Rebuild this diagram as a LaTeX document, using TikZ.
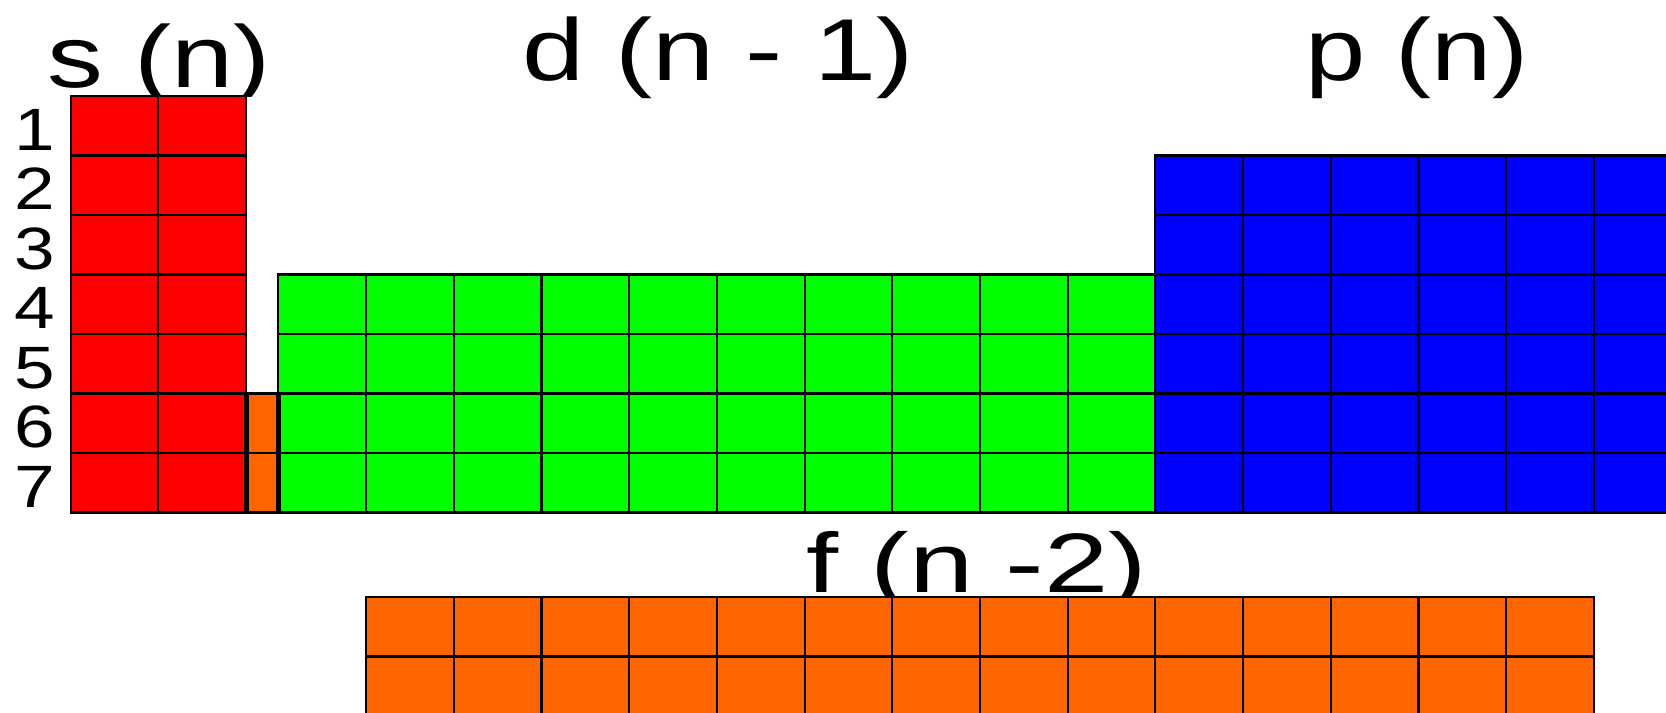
\documentclass[tikz,border=0pt]{standalone}
\usepackage{fontspec}
\setmainfont{Liberation Sans}
\usepackage{xcolor}
\usepackage{tikz}
\usetikzlibrary{positioning,calc}
\tikzset{
  cell/.style    ={draw=black, line width=0.6pt},
  sblock/.style  ={cell, fill=sred},
  dblock/.style  ={cell, fill=dgreen},
  pblock/.style  ={cell, fill=pblue},
  fblock/.style  ={cell, fill=forange},
  edge/.style    ={draw=black, line width=1.4pt},
  headlbl/.style ={anchor=base, inner sep=0pt, xscale=1.27,
                   font=\fontsize{25}{30}\selectfont},
  flbl/.style    ={headlbl, xscale=1.08,
                   font=\fontsize{24}{29}\selectfont},
  rowlbl/.style  ={anchor=base, inner sep=0pt, xscale=1.22,
                   font=\fontsize{17}{20}\selectfont},
}
\definecolor{sred}   {RGB}{255,0,0}
\definecolor{dgreen} {RGB}{0,255,0}
\definecolor{pblue}  {RGB}{0,0,255}
\definecolor{forange}{RGB}{255,102,0}

\begin{document}
\begin{tikzpicture}
  \useasboundingbox (0,0) rectangle (16.66,-7.12);
  \clip (0,0) rectangle (16.66,-7.12);
  % labels sit behind the blocks
  \begin{scope}
    \clip (0,0) rectangle (3,-0.96);
    \node[headlbl] (lbl-s) at (1.59,-0.87) {s (n)};
  \end{scope}
  \node[headlbl] (lbl-d) at (7.18,-0.80) {d (n - 1)};
  \node[headlbl, xscale=0.97] (lbl-p) at (14.17,-0.80) {p (n)};
  \node[flbl] (lbl-f) at (9.77,-5.92) {f (n -2)};
  \foreach \r in {1,...,7}
    \node[rowlbl] (row\r) at (0.35,{-0.96-\r*0.595+0.055}) {\r};

  \begin{scope}[shift={(0.707,-0.96)}, x=0.877cm, y=-0.595cm]
    % s block
    \foreach \c in {0,1}
      \foreach \r in {0,...,6}
        \draw[sblock] (\c,\r) rectangle ++(1,1);
    % sliver of f
    \foreach \r in {5,6}
      \draw[fblock] (2,\r) rectangle (2.368,\r+1);
    % d block
    \foreach \c in {0,...,9}
      \foreach \r in {3,...,6}
        \draw[dblock] (2.368+\c,\r) rectangle ++(1,1);
    % p block
    \foreach \c in {0,...,5}
      \foreach \r in {1,...,6}
        \draw[pblock] (12.368+\c,\r) rectangle ++(1,1);
    % f block
    \foreach \c in {0,...,13}
      \foreach \r in {0,1}
        \draw[fblock] (3.368+\c,8.42+\r) rectangle ++(1,1);
    \draw[edge] (2,5) -- (2,7) (2.368,5) -- (2.368,7);
  \end{scope}
\end{tikzpicture}
\end{document}
